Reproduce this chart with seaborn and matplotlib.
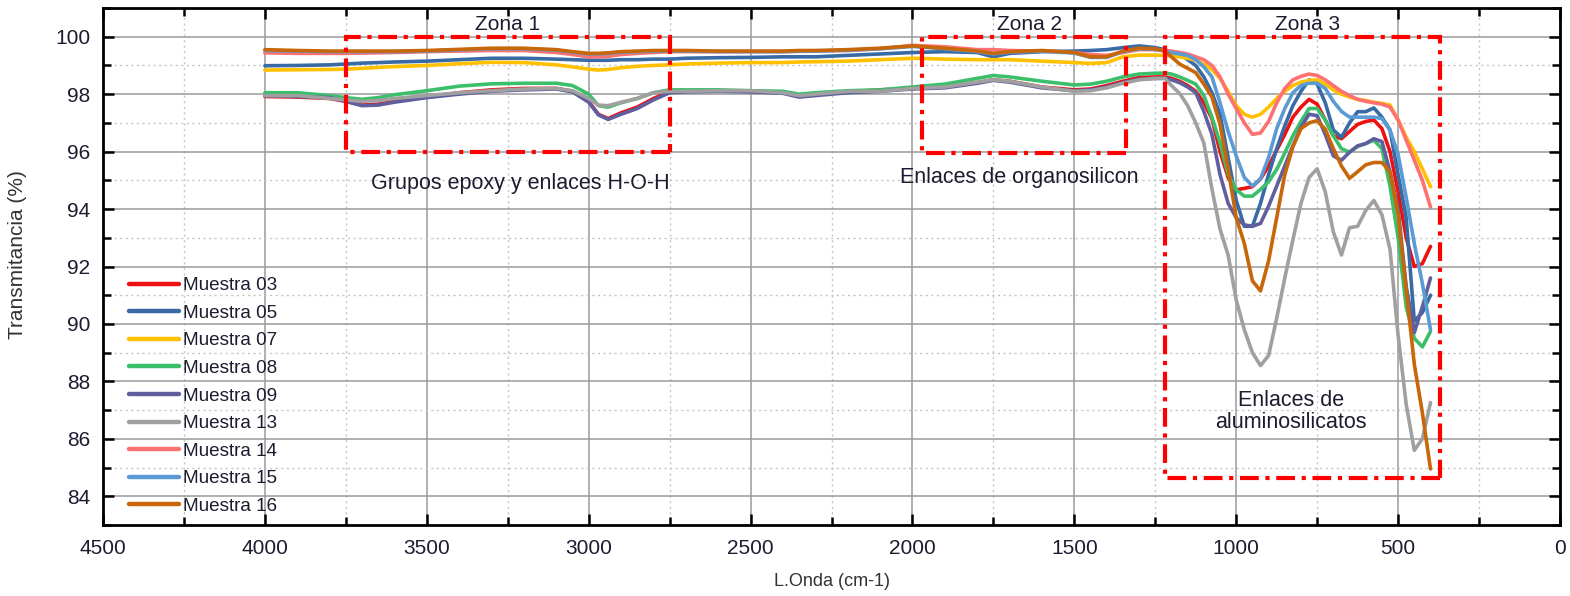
import numpy as np
import pandas as pd
import matplotlib
matplotlib.use("Agg")
import matplotlib.pyplot as plt
import seaborn as sns
from matplotlib.patches import Rectangle
from matplotlib.ticker import MultipleLocator

# ---------------- data ----------------
wavenumber = [4000, 3900, 3800, 3750, 3700, 3650, 3600, 3500, 3400, 3300, 3200, 3100, 3050, 3000,
              2970, 2940, 2900, 2850, 2800, 2750, 2700, 2600, 2500, 2400, 2350, 2300, 2200, 2100,
              2000, 1900, 1800, 1750, 1700, 1600, 1500, 1450, 1400, 1350, 1300, 1250, 1220, 1200,
              1175, 1150, 1125, 1100, 1075, 1050, 1025, 1000, 975, 950, 925, 900, 875, 850, 825,
              800, 775, 750, 725, 700, 675, 650, 625, 600, 575, 550, 525, 500, 475, 450, 425, 400]

m03 = [97.92, 97.90, 97.85, 97.75, 97.62, 97.65, 97.75, 97.90, 98.05, 98.15, 98.20, 98.20, 98.10, 97.75,
       97.30, 97.15, 97.35, 97.55, 97.85, 98.08, 98.10, 98.12, 98.10, 98.05, 97.92, 97.98, 98.08, 98.15,
       98.20, 98.25, 98.40, 98.50, 98.45, 98.25, 98.15, 98.18, 98.30, 98.45, 98.58, 98.60, 98.60, 98.55,
       98.45, 98.30, 98.10, 97.70, 97.15, 96.00, 95.10, 94.67, 94.72, 94.78, 95.05, 95.50, 96.05, 96.60, 97.20,
       97.55, 97.82, 97.65, 97.10, 96.55, 96.45, 96.70, 96.95, 97.05, 97.10, 96.80, 96.00, 94.60, 93.00, 92.00, 92.10, 92.70]

m05 = [98.99, 99.00, 99.02, 99.05, 99.08, 99.10, 99.12, 99.15, 99.20, 99.25, 99.25, 99.22, 99.20, 99.18,
       99.18, 99.18, 99.20, 99.20, 99.22, 99.22, 99.25, 99.27, 99.28, 99.30, 99.30, 99.30, 99.35, 99.40,
       99.45, 99.48, 99.45, 99.30, 99.42, 99.48, 99.50, 99.52, 99.55, 99.62, 99.68, 99.62, 99.55, 99.45,
       99.40, 99.20, 99.00, 98.60, 98.05, 97.30, 95.80, 94.30, 93.40, 93.40, 94.20, 95.20, 96.10, 96.90, 97.60,
       98.10, 98.50, 98.35, 97.70, 96.75, 96.50, 97.00, 97.39, 97.39, 97.52, 97.20, 96.75, 95.20, 93.70, 90.10, 90.40, 91.00]

m07 = [98.84, 98.85, 98.86, 98.87, 98.90, 98.93, 98.96, 99.00, 99.06, 99.11, 99.10, 99.02, 98.95, 98.87,
       98.84, 98.86, 98.92, 98.97, 99.00, 99.02, 99.05, 99.08, 99.10, 99.10, 99.12, 99.13, 99.15, 99.20,
       99.25, 99.22, 99.20, 99.20, 99.20, 99.15, 99.10, 99.07, 99.10, 99.30, 99.36, 99.36, 99.35, 99.33,
       99.30, 99.25, 99.18, 99.05, 98.85, 98.55, 98.10, 97.60, 97.30, 97.20, 97.30, 97.55, 97.85, 98.10, 98.30,
       98.42, 98.48, 98.50, 98.35, 98.15, 98.00, 97.90, 97.82, 97.78, 97.72, 97.68, 97.62, 97.10, 96.50, 96.00, 95.40, 94.78]

m08 = [98.05, 98.05, 97.95, 97.88, 97.82, 97.88, 97.98, 98.12, 98.28, 98.36, 98.38, 98.38, 98.30, 98.00,
       97.60, 97.55, 97.70, 97.85, 98.05, 98.15, 98.15, 98.15, 98.12, 98.10, 98.00, 98.05, 98.12, 98.15,
       98.25, 98.35, 98.55, 98.65, 98.60, 98.45, 98.32, 98.35, 98.45, 98.60, 98.70, 98.73, 98.73, 98.70,
       98.60, 98.48, 98.35, 97.95, 97.20, 96.30, 95.20, 94.67, 94.45, 94.45, 94.68, 94.95, 95.38, 95.95, 96.55,
       97.05, 97.50, 97.50, 97.10, 96.55, 96.10, 95.98, 96.18, 96.28, 96.40, 96.10, 94.80, 93.00, 90.60, 89.50, 89.20, 89.74]

m09 = [97.95, 97.92, 97.88, 97.75, 97.60, 97.62, 97.72, 97.88, 98.00, 98.10, 98.15, 98.18, 98.08, 97.72,
       97.28, 97.12, 97.30, 97.50, 97.80, 98.05, 98.08, 98.10, 98.08, 98.03, 97.90, 97.95, 98.05, 98.10,
       98.18, 98.22, 98.38, 98.48, 98.42, 98.22, 98.12, 98.15, 98.25, 98.40, 98.52, 98.55, 98.55, 98.50,
       98.40, 98.25, 98.05, 97.40, 96.60, 95.20, 94.20, 93.70, 93.45, 93.40, 93.50, 94.10, 94.80, 95.50, 96.20,
       96.85, 97.30, 97.25, 96.60, 95.85, 95.70, 95.98, 96.20, 96.28, 96.45, 96.35, 95.30, 94.00, 91.30, 89.70, 90.60, 91.60]

m13 = [97.95, 97.95, 97.85, 97.80, 97.75, 97.78, 97.85, 97.95, 98.05, 98.12, 98.18, 98.20, 98.12, 97.85,
       97.62, 97.60, 97.72, 97.85, 98.05, 98.10, 98.10, 98.12, 98.12, 98.05, 97.95, 98.00, 98.10, 98.10,
       98.20, 98.25, 98.42, 98.50, 98.45, 98.25, 98.10, 98.12, 98.22, 98.38, 98.50, 98.55, 98.55, 98.30,
       98.03, 97.60, 97.00, 96.30, 94.70, 93.30, 92.40, 90.84, 89.80, 89.00, 88.55, 88.90, 90.20, 91.60, 92.93,
       94.20, 95.10, 95.40, 94.60, 93.20, 92.40, 93.35, 93.40, 93.95, 94.30, 93.80, 92.60, 89.60, 87.20, 85.60, 86.00, 87.26]

m14 = [99.44, 99.42, 99.42, 99.42, 99.43, 99.44, 99.45, 99.48, 99.50, 99.52, 99.52, 99.45, 99.38, 99.30,
       99.30, 99.32, 99.38, 99.42, 99.45, 99.48, 99.48, 99.48, 99.48, 99.48, 99.49, 99.50, 99.52, 99.58,
       99.70, 99.65, 99.55, 99.55, 99.52, 99.50, 99.45, 99.38, 99.35, 99.45, 99.55, 99.55, 99.52, 99.50,
       99.45, 99.40, 99.30, 99.20, 99.00, 98.60, 98.00, 97.50, 97.00, 96.60, 96.65, 97.05, 97.70, 98.20, 98.50,
       98.62, 98.70, 98.65, 98.50, 98.30, 98.10, 97.95, 97.82, 97.75, 97.70, 97.65, 97.55, 97.10, 96.40, 95.70, 95.00, 94.07]

m15 = [99.52, 99.50, 99.48, 99.48, 99.48, 99.48, 99.48, 99.50, 99.54, 99.58, 99.58, 99.53, 99.46, 99.40,
       99.40, 99.42, 99.46, 99.48, 99.50, 99.50, 99.50, 99.48, 99.48, 99.48, 99.50, 99.50, 99.53, 99.58,
       99.66, 99.58, 99.48, 99.40, 99.46, 99.50, 99.43, 99.28, 99.28, 99.48, 99.58, 99.56, 99.50, 99.45,
       99.40, 99.35, 99.20, 98.95, 98.60, 97.70, 96.70, 95.85, 95.10, 94.80, 95.05, 95.80, 96.80, 97.50, 98.05,
       98.30, 98.38, 98.38, 98.20, 97.75, 97.40, 97.20, 97.20, 97.20, 97.20, 97.15, 96.75, 95.90, 94.40, 92.80, 91.40, 89.80]

m16 = [99.55, 99.52, 99.50, 99.50, 99.50, 99.50, 99.50, 99.52, 99.56, 99.60, 99.60, 99.55, 99.48, 99.42,
       99.42, 99.44, 99.48, 99.50, 99.52, 99.52, 99.52, 99.50, 99.50, 99.50, 99.52, 99.52, 99.55, 99.60,
       99.68, 99.60, 99.50, 99.42, 99.48, 99.52, 99.45, 99.30, 99.30, 99.50, 99.60, 99.58, 99.50, 99.30,
       99.05, 98.90, 98.75, 98.35, 97.90, 96.95, 95.40, 93.70, 92.80, 91.50, 91.15, 92.20, 93.70, 95.20, 96.17,
       96.80, 97.00, 97.08, 96.78, 96.10, 95.50, 95.07, 95.30, 95.54, 95.62, 95.62, 95.30, 93.80, 91.20, 88.60, 86.90, 84.95]

series_names = ["Muestra 03", "Muestra 05", "Muestra 07", "Muestra 08", "Muestra 09",
                "Muestra 13", "Muestra 14", "Muestra 15", "Muestra 16"]
series_values = [m03, m05, m07, m08, m09, m13, m14, m15, m16]
series_colors = ["#ee1111", "#386aa5", "#ffc000", "#3bbf6b", "#5f5f9f",
                 "#a0a0a0", "#ff7070", "#5b9bd5", "#c8660a"]

x_ticks = [4500, 4000, 3500, 3000, 2500, 2000, 1500, 1000, 500, 0]
y_ticks = [84, 86, 88, 90, 92, 94, 96, 98, 100]

# zone boxes: (x_left, x_right, y_bottom, y_top)
zone_boxes = [(3750, 2750, 96.0, 100.0), (1970, 1340, 95.95, 100.0), (1220, 370, 84.65, 100.0)]
zone_titles = [("Zona 1", 3250), ("Zona 2", 1640), ("Zona 3", 780)]

# ---------------- figure ----------------
sns.set_style("white")
plt.rcParams["font.family"] = ["Liberation Sans", "DejaVu Sans"]

fig = plt.figure(figsize=(15.7, 5.96), dpi=100)
ax = fig.add_axes([103 / 1570, 1 - 525 / 596, 1457 / 1570, 517 / 596])

df = pd.concat([pd.DataFrame({"w": wavenumber, "T": v, "Muestra": n})
                for n, v in zip(series_names, series_values)], ignore_index=True)

sns.lineplot(data=df, x="w", y="T", hue="Muestra", palette=dict(zip(series_names, series_colors)),
             hue_order=series_names, sort=False, estimator=None, linewidth=2.6, ax=ax, legend=False,
             zorder=3)

ax.set_xlim(4500, 0)
ax.set_ylim(83, 101)
ax.set_xticks(x_ticks)
ax.set_yticks(y_ticks)
ax.xaxis.set_minor_locator(MultipleLocator(250))
ax.yaxis.set_minor_locator(MultipleLocator(1))

ax.grid(True, which="major", color="#9a9a9a", linewidth=1.1, linestyle="-", zorder=0)
ax.grid(True, which="minor", color="#c4c4c4", linewidth=1.0, linestyle=(0, (1.5, 2.5)), zorder=0)
ax.set_axisbelow(True)

for s in ax.spines.values():
    s.set_color("black")
    s.set_linewidth(2.0)
    s.set_visible(True)

ax.tick_params(which="both", direction="in", top=True, right=True, bottom=True, left=True,
               width=1.8, color="black")
ax.tick_params(which="major", length=8)
ax.tick_params(which="minor", length=6)
ax.tick_params(axis="x", which="major", labelsize=15, pad=10, labelcolor="#1c1c30")
ax.tick_params(axis="y", which="major", labelsize=15, pad=9, labelcolor="#1c1c30")

ax.set_xlabel("L.Onda (cm-1)", fontsize=13, color="#333333")
ax.set_ylabel("Transmitancia (%)", fontsize=15, color="#333333")
ax.xaxis.set_label_coords(0.5, -0.092)
ax.yaxis.set_label_coords(-0.052, 0.524)

# zone boxes
for (x0, x1, y0, y1) in zone_boxes:
    rect = Rectangle((x1, y0), x0 - x1, y1 - y0, fill=False, edgecolor="#ff0000",
                     linewidth=3.0, linestyle=(0, (4.5, 1.6, 1.0, 1.6)), zorder=5)
    ax.add_patch(rect)

for (t, x) in zone_titles:
    ax.text(x, 100.43, t, ha="center", va="center", fontsize=15, color="#1c1c30", zorder=6)

ax.text(3210, 94.9, "Grupos epoxy y enlaces H-O-H", ha="center", va="center", fontsize=15.5,
        color="#1c1c30", zorder=6)
ax.text(1670, 95.1, "Enlaces de organosilicon", ha="center", va="center", fontsize=15.5,
        color="#1c1c30", zorder=6)
ax.text(830, 86.95, "Enlaces de\naluminosilicatos", ha="center", va="center", fontsize=15.5,
        color="#1c1c30", linespacing=1.1, zorder=6)

# legend
handles = [plt.Line2D([0], [0], color=c, linewidth=3.2) for c in series_colors]
leg = ax.legend(handles, series_names, loc="lower left", bbox_to_anchor=(0.015, 0.012),
                frameon=False, fontsize=13.6, handlelength=2.65, handletextpad=0.25,
                labelspacing=0.55, borderpad=0.2, borderaxespad=0)
for t in leg.get_texts():
    t.set_color("#1c1c30")

fig.savefig("out.png", dpi=100)
